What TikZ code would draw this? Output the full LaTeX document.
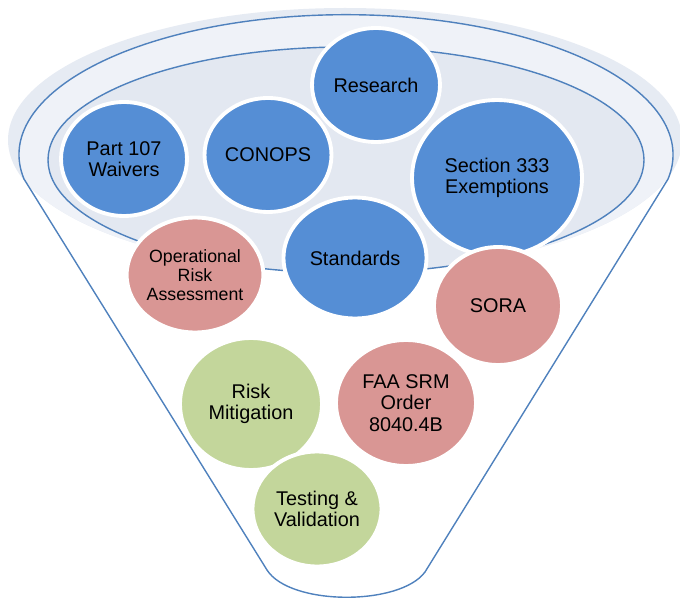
\documentclass[tikz,border=0pt]{standalone}
\usepackage{fontspec}
\setmainfont{Liberation Sans}
\usepackage{xcolor}
\usetikzlibrary{shapes.geometric}
\definecolor{bubbleblue}{RGB}{85,142,213}
\definecolor{bubblered}{RGB}{217,150,148}
\definecolor{bubblegreen}{RGB}{195,214,155}
\definecolor{funnelline}{RGB}{79,129,189}
\definecolor{rimshade}{RGB}{230,235,243}
\definecolor{rimlight}{RGB}{239,242,248}
\definecolor{bowlshade}{RGB}{227,232,241}
\tikzset{
  bubble/.style 2 args = {ellipse, draw=white, line width=2.2pt, inner sep=0pt, align=center,
    minimum width=#1, minimum height=#2, font=\fontsize{11.3}{12.2}\selectfont},
  blue bubble/.style = {fill=bubbleblue},
  red bubble/.style = {fill=bubblered},
  green bubble/.style = {fill=bubblegreen},
  small text/.style = {font=\fontsize{10.1}{11}\selectfont},
  funnel/.style = {draw=funnelline, line width=0.8pt}
}

\begin{document}
\begin{tikzpicture}[x=0.02cm, y=-0.02cm]
  \useasboundingbox (0,0) rectangle (680,601);

  % top of the funnel
  \fill[rimshade] (345,140) ellipse [x radius=337, y radius=132];
  \begin{scope}
    \clip (345,140) ellipse [x radius=337, y radius=132];
    \fill[rimlight] (346,155) ellipse [x radius=327, y radius=140];
  \end{scope}
  \draw[funnel, fill=bowlshade] (346,160) ellipse [x radius=298, y radius=113];

  \draw[funnel] (267,570) -- (24,179)
    arc [start angle=170, end angle=370, x radius=327, y radius=140]
    -- (425,572) .. controls (400,606) and (290,606) .. (267,570);

  % bubbles
  \node[bubble={2.56cm}{2.28cm}, blue bubble] (research) at (376,85) {Research};
  \node[bubble={2.52cm}{2.28cm}, blue bubble] (part107) at (124,159) {Part 107\\Waivers};
  \node[bubble={2.54cm}{2.28cm}, blue bubble] (conops) at (268,155) {CONOPS};
  \node[bubble={3.4cm}{3.12cm}, blue bubble] (section333) at (497,178) {Section 333\\Exemptions};
  \node[bubble={2.86cm}{2.42cm}, blue bubble] (standards) at (355,258) {Standards};
  \node[bubble={2.56cm}{2.3cm}, red bubble, small text] (opsrisk) at (195,275) {Operational\\Risk\\Assessment};
  \node[bubble={2.56cm}{2.36cm}, red bubble] (sora) at (498,306) {SORA};
  \node[bubble={2.84cm}{2.64cm}, green bubble] (riskmit) at (251,404) {Risk\\Mitigation};
  \node[bubble={2.8cm}{2.52cm}, red bubble] (faasrm) at (406,403) {FAA SRM\\Order\\8040.4B};
  \node[bubble={2.58cm}{2.3cm}, green bubble] (testing) at (317,509) {Testing \&\\Validation};
\end{tikzpicture}
\end{document}
